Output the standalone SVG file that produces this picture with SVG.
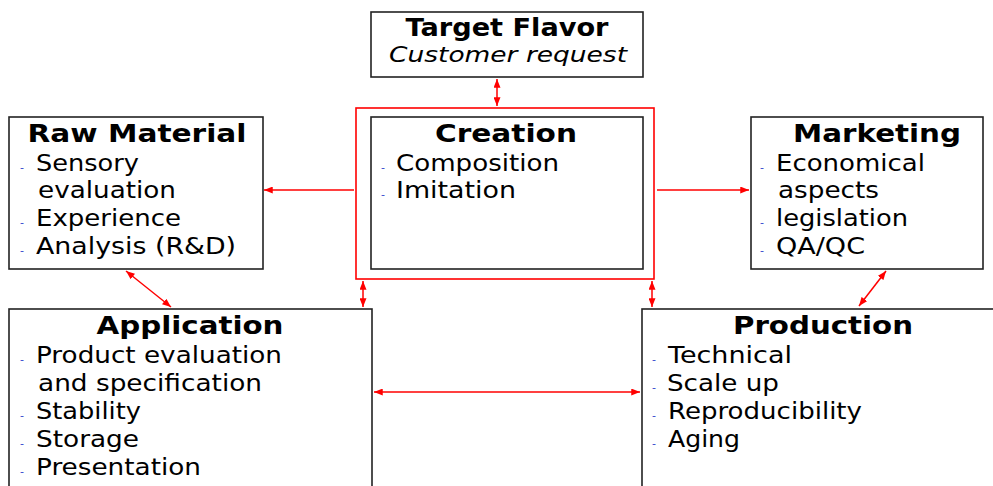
<svg xmlns="http://www.w3.org/2000/svg" width="993" height="486" viewBox="0 0 993 486">
<defs>
<marker id="ah" viewBox="0 0 10 8" refX="10" refY="4" markerWidth="9" markerHeight="7" markerUnits="userSpaceOnUse" orient="auto-start-reverse">
<path d="M0,0 L10,4 L0,8 Z" fill="#ff0000"/>
</marker>
<style>
.box{fill:#fff;stroke:#222;stroke-width:1.6}
.rbox{fill:none;stroke:#ff0000;stroke-width:1.6}
.t{font-family:"DejaVu Sans",Verdana,sans-serif;font-size:24px;font-weight:bold;fill:#000;text-anchor:middle}
.i{font-family:"DejaVu Sans",Verdana,sans-serif;font-size:22px;font-style:italic;fill:#000;text-anchor:middle}
.s{font-family:"DejaVu Sans",Verdana,sans-serif;font-size:23px;fill:#000}
.d{font-family:"DejaVu Sans",Verdana,sans-serif;font-size:11px;fill:#3344cc}
.c{fill:none;stroke:#ff0000;stroke-width:1.5}
</style>
</defs>
<rect width="993" height="486" fill="#fff"/>

<g id="connectors">
<line class="c" x1="497" y1="79" x2="497" y2="106" marker-start="url(#ah)" marker-end="url(#ah)"/>
<line class="c" x1="354" y1="190" x2="264" y2="190" marker-end="url(#ah)"/>
<line class="c" x1="657" y1="190" x2="749" y2="190" marker-end="url(#ah)"/>
<line class="c" x1="126" y1="271" x2="171" y2="307" marker-start="url(#ah)" marker-end="url(#ah)"/>
<line class="c" x1="886" y1="271" x2="859" y2="306" marker-start="url(#ah)" marker-end="url(#ah)"/>
<line class="c" x1="363" y1="281" x2="363" y2="307" marker-start="url(#ah)" marker-end="url(#ah)"/>
<line class="c" x1="652" y1="281" x2="652" y2="307" marker-start="url(#ah)" marker-end="url(#ah)"/>
<line class="c" x1="374" y1="392" x2="640" y2="392" marker-start="url(#ah)" marker-end="url(#ah)"/>
</g>

<g id="target">
<rect class="box" x="371" y="12" width="272" height="65"/>
<text class="t" x="507" y="36" textLength="203" lengthAdjust="spacingAndGlyphs">Target Flavor</text>
<text class="i" x="508" y="62" textLength="238" lengthAdjust="spacingAndGlyphs">Customer request</text>
</g>

<g id="creation">
<rect class="rbox" x="356" y="108" width="298" height="171"/>
<rect class="box" x="371" y="117" width="272" height="152"/>
<text class="t" x="506" y="142" textLength="142" lengthAdjust="spacingAndGlyphs">Creation</text>
<text class="d" x="381" y="171">-</text>
<text class="s" x="396" y="171" textLength="163" lengthAdjust="spacingAndGlyphs">Composition</text>
<text class="d" x="381" y="198">-</text>
<text class="s" x="396" y="198" textLength="120" lengthAdjust="spacingAndGlyphs">Imitation</text>
</g>

<g id="raw">
<rect class="box" x="9" y="117" width="254" height="152"/>
<text class="t" x="137" y="142" textLength="219" lengthAdjust="spacingAndGlyphs">Raw Material</text>
<text class="d" x="20" y="171">-</text>
<text class="s" x="36" y="171" textLength="103" lengthAdjust="spacingAndGlyphs">Sensory</text>
<text class="s" x="38" y="198" textLength="138" lengthAdjust="spacingAndGlyphs">evaluation</text>
<text class="d" x="20" y="226">-</text>
<text class="s" x="36" y="226" textLength="145" lengthAdjust="spacingAndGlyphs">Experience</text>
<text class="d" x="20" y="254">-</text>
<text class="s" x="36" y="254" textLength="200" lengthAdjust="spacingAndGlyphs">Analysis (R&amp;D)</text>
</g>

<g id="marketing">
<rect class="box" x="751" y="117" width="232" height="152"/>
<text class="t" x="877" y="142" textLength="168" lengthAdjust="spacingAndGlyphs">Marketing</text>
<text class="d" x="760" y="171">-</text>
<text class="s" x="776" y="171" textLength="149" lengthAdjust="spacingAndGlyphs">Economical</text>
<text class="s" x="778" y="198" textLength="101" lengthAdjust="spacingAndGlyphs">aspects</text>
<text class="d" x="760" y="226">-</text>
<text class="s" x="776" y="226" textLength="132" lengthAdjust="spacingAndGlyphs">legislation</text>
<text class="d" x="760" y="254">-</text>
<text class="s" x="776" y="254" textLength="89" lengthAdjust="spacingAndGlyphs">QA/QC</text>
</g>

<g id="application">
<rect class="box" x="9" y="309" width="363" height="190"/>
<text class="t" x="190" y="334" textLength="187" lengthAdjust="spacingAndGlyphs">Application</text>
<text class="d" x="20" y="363">-</text>
<text class="s" x="36" y="363" textLength="246" lengthAdjust="spacingAndGlyphs">Product evaluation</text>
<text class="s" x="38" y="391" textLength="224" lengthAdjust="spacingAndGlyphs">and specification</text>
<text class="d" x="20" y="419">-</text>
<text class="s" x="36" y="419" textLength="105" lengthAdjust="spacingAndGlyphs">Stability</text>
<text class="d" x="20" y="447">-</text>
<text class="s" x="36" y="447" textLength="103" lengthAdjust="spacingAndGlyphs">Storage</text>
<text class="d" x="20" y="475">-</text>
<text class="s" x="36" y="475" textLength="165" lengthAdjust="spacingAndGlyphs">Presentation</text>
</g>

<g id="production">
<rect class="box" x="642" y="309" width="360" height="190"/>
<text class="t" x="823" y="334" textLength="180" lengthAdjust="spacingAndGlyphs">Production</text>
<text class="d" x="652" y="363">-</text>
<text class="s" x="668" y="363" textLength="124" lengthAdjust="spacingAndGlyphs">Technical</text>
<text class="d" x="652" y="391">-</text>
<text class="s" x="667" y="391" textLength="112" lengthAdjust="spacingAndGlyphs">Scale up</text>
<text class="d" x="652" y="419">-</text>
<text class="s" x="668" y="419" textLength="194" lengthAdjust="spacingAndGlyphs">Reproducibility</text>
<text class="d" x="652" y="447">-</text>
<text class="s" x="668" y="447" textLength="72" lengthAdjust="spacingAndGlyphs">Aging</text>
</g>
</svg>
